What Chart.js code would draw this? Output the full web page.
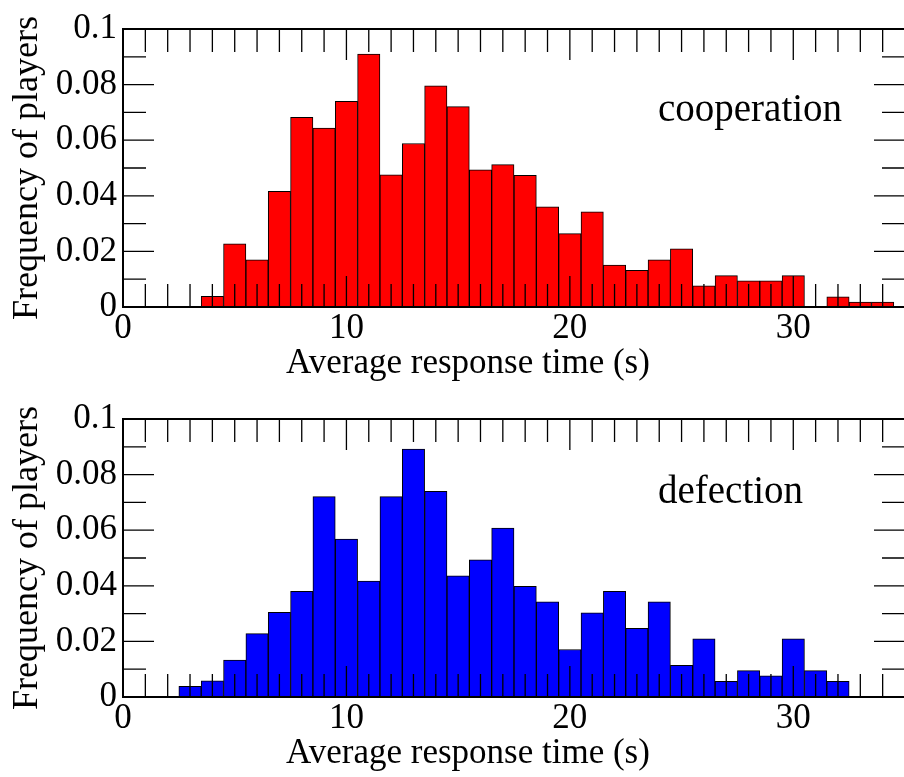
<!DOCTYPE html>
<html>
<head>
<meta charset="utf-8">
<script src="https://cdn.jsdelivr.net/npm/chart.js@4.4.1/dist/chart.umd.min.js"></script>
<style>
  html, body { margin: 0; padding: 0; background: #fff; overflow: hidden; }
  canvas { display: block; }
</style>
</head>
<body>
<canvas id="coopChart" width="910" height="390"></canvas>
<canvas id="defChart" width="910" height="387"></canvas>
<script>
// histogram bins (centre of each 1 s bin) and frequencies
const coopBins = [4, 5, 6, 7, 8, 9, 10, 11, 12, 13, 14, 15, 16, 17, 18, 19, 20, 21, 22, 23, 24, 25, 26, 27, 28, 29, 30, 31, 32, 33, 34];
const coopFreq = [0.0038, 0.0227, 0.0170, 0.0416, 0.0682, 0.0644, 0.0740, 0.0910, 0.0475, 0.0588, 0.0796, 0.0721, 0.0493, 0.0512, 0.0474, 0.0360,
                  0.0264, 0.0342, 0.0151, 0.0132, 0.0170, 0.0209, 0.0076, 0.0113, 0.0094, 0.0094, 0.0113, 0, 0.0037, 0.0018, 0.0018];

const defBins = [3, 4, 5, 6, 7, 8, 9, 10, 11, 12, 13, 14, 15, 16, 17, 18, 19, 20, 21, 22, 23, 24, 25, 26, 27, 28, 29, 30, 31, 32];
const defFreq = [0.0038, 0.0058, 0.0133, 0.0228, 0.0305, 0.0380, 0.0721, 0.0568, 0.0417, 0.0721, 0.0892, 0.0740, 0.0436, 0.0493, 0.0608,
                 0.0398, 0.0342, 0.0171, 0.0303, 0.0380, 0.0247, 0.0342, 0.0114, 0.0209, 0.0056, 0.0095, 0.0076, 0.0209, 0.0095, 0.0056];

const xTicks = [0, 10, 20, 30];
const yTicks = [0, 0.02, 0.04, 0.06, 0.08, 0.1];
const yTickLabels = ["0", "0.02", "0.04", "0.06", "0.08", "0.1"];

const FONT = '"Liberation Serif", "Times New Roman", serif';

// frame, inward ticks on all four sides, and the text labels
const framePlugin = {
  id: "frame",
  afterDatasetsDraw(chart, args, opts) {
    const { ctx, chartArea: a, scales: { x, y } } = chart;
    ctx.save();
    ctx.strokeStyle = "#000";
    ctx.lineWidth = 1.3;
    ctx.beginPath();
    for (let v = 1; v < 35; v++) {
      const px = x.getPixelForValue(v);
      const len = v % 10 === 0 ? 31 : 23;
      ctx.moveTo(px, a.bottom); ctx.lineTo(px, a.bottom - len);
      ctx.moveTo(px, a.top); ctx.lineTo(px, a.top + len);
    }
    for (let i = 1; i < 10; i++) {
      const py = y.getPixelForValue(i / 100);
      const len = i % 2 === 0 ? 31 : 23;
      ctx.moveTo(a.left, py); ctx.lineTo(a.left + len, py);
      ctx.moveTo(a.right, py); ctx.lineTo(a.right - len, py);
    }
    ctx.stroke();
    ctx.lineWidth = 2;
    ctx.strokeRect(a.left, a.top, a.right - a.left, a.bottom - a.top);

    ctx.fillStyle = "#000";
    ctx.textBaseline = "alphabetic";
    ctx.font = "35px " + FONT;
    ctx.textAlign = "center";
    ctx.fillText("Average response time (s)", 468, 373);

    ctx.font = "39px " + FONT;
    ctx.textAlign = "left";
    ctx.fillText(opts.text, 658, opts.textY);

    ctx.translate(37, (a.top + a.bottom) / 2);
    ctx.rotate(-Math.PI / 2);
    ctx.textAlign = "center";
    ctx.font = "36px " + FONT;
    ctx.fillText("Frequency of players", 0, 0);
    ctx.restore();
  }
};

function drawHist(id, bins, freq, color, text, textY) {
  const ctx = document.getElementById(id).getContext("2d");
  return new Chart(ctx, {
    type: "bar",
    data: {
      datasets: [{
        label: text,
        data: bins.map((b, i) => ({ x: b, y: freq[i] })),
        backgroundColor: color,
        borderColor: "#000",
        borderWidth: 1,
        borderSkipped: false,
        barPercentage: 1,
        categoryPercentage: 1
      }]
    },
    options: {
      responsive: false,
      animation: false,
      layout: { padding: { left: 0, top: 29, right: 5, bottom: 0 } },
      plugins: {
        legend: { display: false },
        tooltip: { enabled: false },
        frame: { text: text, textY: textY }
      },
      scales: {
        x: {
          type: "linear",
          min: 0,
          max: 35,
          offset: false,
          grid: { display: false, drawTicks: false },
          border: { display: false },
          afterBuildTicks: s => { s.ticks = xTicks.map(v => ({ value: v })); },
          afterFit: s => { s.height = s.chart.height - 307; },
          ticks: {
            font: { family: FONT, size: 35 },
            color: "#000",
            padding: 1,
            maxRotation: 0,
            autoSkip: false,
            callback: (v, i) => String(xTicks[i])
          }
        },
        y: {
          min: 0,
          max: 0.1,
          grid: { display: false, drawTicks: false },
          border: { display: false },
          afterBuildTicks: s => { s.ticks = yTicks.map(v => ({ value: v })); },
          afterFit: s => { s.width = 123; },
          ticks: {
            font: { family: FONT, size: 35 },
            color: "#000",
            padding: 6,
            callback: (v, i) => yTickLabels[i]
          }
        }
      }
    },
    plugins: [framePlugin]
  });
}

drawHist("coopChart", coopBins, coopFreq, "#ff0000", "cooperation", 121);
drawHist("defChart", defBins, defFreq, "#0000ff", "defection", 113);
</script>
</body>
</html>
